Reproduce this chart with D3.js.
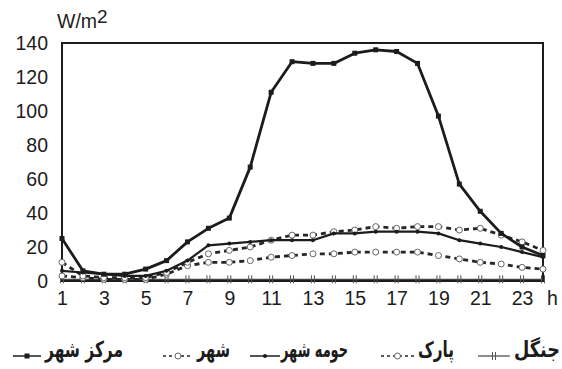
<!DOCTYPE html>
<html>
<head>
<meta charset="utf-8">
<script src="https://cdn.jsdelivr.net/npm/d3@7"></script>
<style>
  body { margin: 0; background: #fff; }
  svg { display: block; }
</style>
</head>
<body>
<svg id="chart" width="562" height="369"></svg>
<script>
// hours of the day
const hours = [1, 2, 3, 4, 5, 6, 7, 8, 9, 10, 11, 12, 13, 14, 15, 16, 17, 18, 19, 20, 21, 22, 23, 24]
const xTicks = [1, 3, 5, 7, 9, 11, 13, 15, 17, 19, 21, 23]
const yTicks = [0, 20, 40, 60, 80, 100, 120, 140]

// مرکز شهر
const cityCenter = [25, 6, 4, 4, 7, 12, 23, 31, 37, 67, 111, 129, 128, 128, 134, 136, 135, 128, 97, 57, 41, 28, 20, 15]
// حومه شهر
const suburb = [6, 5, 4, 3, 3, 6, 12, 21, 22, 23, 24, 24, 24, 28, 28, 29, 29, 29, 28, 24, 22, 20, 17, 14]
// شهر
const city = [11, 3, 2, 2, 2, 5, 11, 16, 18, 20, 24, 27, 27, 29, 30, 32, 31, 32, 32, 30, 31, 27, 23, 18]
// پارک
const park = [3, 2, 1, 1, 1, 4, 9, 11, 11, 12, 14, 15, 16, 16, 17, 17, 17, 17, 15, 13, 11, 10, 8, 7]
// جنگل
const forest = [1, 1, 1, 1, 1, 1, 1, 1, 1, 1, 1, 1, 1, 1, 1, 1, 1, 1, 1, 1, 1, 1, 1, 1]

const legendNames = ["جنگل", "پارک", "حومه شهر", "شهر", "مرکز شهر"]

const svg = d3.select("#chart")
const margin = { left: 62, right: 19, top: 43, bottom: 88 }
const W = 562, H = 369
const numFont = "Liberation Sans, Arial, sans-serif"

const xScale = d3.scaleLinear().domain([1, 24]).range([margin.left, W - margin.right])
const yScale = d3.scaleLinear().domain([0, 140]).range([H - margin.bottom, margin.top])

const ink = "#1c1c1c"

// 坐标轴
const yAxis = svg.append("g")
    .attr("transform", "translate(" + margin.left + ",0)")
    .call(d3.axisLeft(yScale).tickValues(yTicks).tickSize(0).tickPadding(14))
yAxis.select(".domain").remove()
yAxis.selectAll("text")
    .attr("font-family", numFont)
    .attr("font-size", 19.5)
    .attr("fill", ink)

const xAxis = svg.append("g")
    .attr("transform", "translate(0," + yScale(0) + ")")
    .call(d3.axisBottom(xScale).tickValues(xTicks).tickSize(0).tickPadding(0))
xAxis.select(".domain").remove()
xAxis.selectAll("text")
    .attr("y", 24)
    .attr("dy", 0)
    .attr("font-family", numFont)
    .attr("font-size", 19.5)
    .attr("fill", ink)

svg.append("text")
    .attr("x", xScale(24) + 4)
    .attr("y", yScale(0) + 24)
    .attr("font-family", numFont)
    .attr("font-size", 19.5)
    .attr("fill", ink)
    .text("h")

// unit
const unit = svg.append("text")
    .attr("x", 57)
    .attr("y", 28)
    .attr("font-family", numFont)
    .attr("font-size", 19.5)
    .attr("fill", ink)
unit.append("tspan").text("W/m")
unit.append("tspan").attr("dy", -5).attr("font-size", 19).text("2")

// frame
svg.append("rect")
    .attr("x", xScale(1))
    .attr("y", yScale(140))
    .attr("width", xScale(24) - xScale(1))
    .attr("height", yScale(0) - yScale(140))
    .attr("fill", "none")
    .attr("stroke", ink)
    .attr("stroke-width", 2)

const line = d3.line()
    .x((d, i) => xScale(hours[i]))
    .y(d => yScale(d))

function drawSeries(values, opt) {
    svg.append("path")
        .attr("d", line(values))
        .attr("fill", "none")
        .attr("stroke", opt.color)
        .attr("stroke-width", opt.width)
        .attr("stroke-dasharray", opt.dash || null)
        .attr("stroke-linejoin", "round")
    const g = svg.append("g")
    values.forEach((v, i) => {
        drawMarker(g, xScale(hours[i]), yScale(v), opt.marker)
    })
}

function drawMarker(g, x, y, type) {
    if (type == "square") {
        g.append("rect").attr("x", x - 2.5).attr("y", y - 2.5).attr("width", 5).attr("height", 5).attr("fill", ink)
    } else if (type == "dot") {
        g.append("circle").attr("cx", x).attr("cy", y).attr("r", 2).attr("fill", ink)
    } else if (type == "open") {
        g.append("circle").attr("cx", x).attr("cy", y).attr("r", 3)
            .attr("fill", "#fff").attr("stroke", "#666").attr("stroke-width", 1)
    } else if (type == "tick") {
        g.append("path")
            .attr("d", "M" + (x - 1.5) + "," + (y - 4) + "V" + (y + 4) + "M" + (x + 1.5) + "," + (y - 4) + "V" + (y + 4))
            .attr("stroke", "#555").attr("stroke-width", 1)
    }
}

const styles = [
    { color: "#444", width: 1.2, marker: "tick" },                 // جنگل
    { color: "#262626", width: 2.8, dash: "5,4", marker: "open" },  // پارک
    { color: ink, width: 2.2, marker: "dot" },                      // حومه شهر
    { color: "#262626", width: 2.8, dash: "5,4", marker: "open" },  // شهر
    { color: ink, width: 2.8, marker: "square" }                    // مرکز شهر
]

drawSeries(forest, styles[0])
drawSeries(park, styles[1])
drawSeries(city, styles[3])
drawSeries(suburb, styles[2])
drawSeries(cityCenter, styles[4])

// 图例: text right edge, text width, marker span
const legendRight = [560, 454, 348, 230, 123]
const legendWidth = [46, 36, 67, 33, 78]
const legendMarker = [[478, 510], [381, 414], [250, 280], [163, 193], [13, 41]]
const legendY = 356
legendNames.forEach((name, i) => {
    const t = svg.append("text")
        .attr("text-anchor", "end")
        .attr("font-family", "DejaVu Sans, sans-serif")
        .attr("font-weight", "bold")
        .attr("font-size", 22)
        .attr("fill", ink)
        .text(name)
    const tw = t.node().getComputedTextLength()
    const sx = legendWidth[i] / tw
    t.attr("transform", "translate(" + legendRight[i] + "," + (legendY + 1) + ") scale(" + sx + ",1)")
    const s = styles[i]
    const x0 = legendMarker[i][0], x1 = legendMarker[i][1]
    svg.append("line")
        .attr("x1", x0).attr("x2", x1)
        .attr("y1", legendY).attr("y2", legendY)
        .attr("stroke", s.color)
        .attr("stroke-width", Math.min(s.width, 1.5))
        .attr("stroke-dasharray", s.dash ? "3,3" : null)
    drawMarker(svg, (x0 + x1) / 2, legendY, s.marker)
})
</script>
</body>
</html>
